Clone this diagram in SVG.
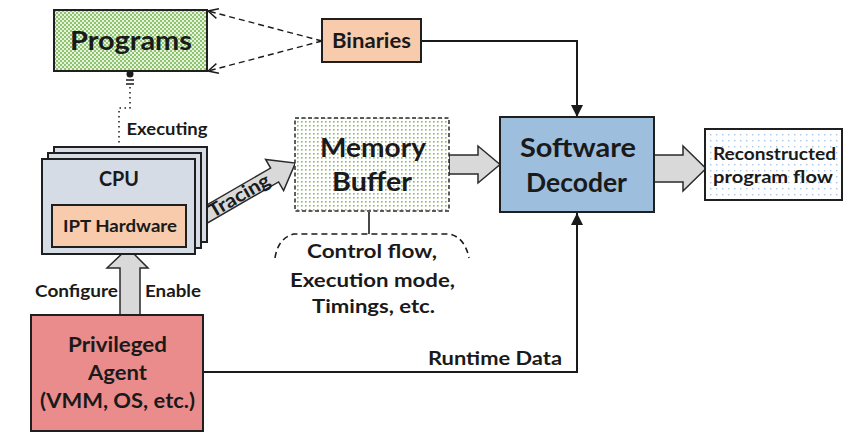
<svg xmlns="http://www.w3.org/2000/svg" width="846" height="436" viewBox="0 0 846 436">
<defs>
<pattern id="checker" width="4" height="4" patternUnits="userSpaceOnUse">
<rect width="4" height="4" fill="#E6F2DD"/>
<rect width="2" height="2" fill="#8EC46E"/>
<rect x="2" y="2" width="2" height="2" fill="#8EC46E"/>
</pattern>
<pattern id="gdots" width="4" height="4" patternUnits="userSpaceOnUse">
<rect width="4" height="4" fill="#FFFFFF"/>
<rect x="1" y="1" width="1.6" height="1.6" fill="#8DB872"/>
</pattern>
<pattern id="bdots" width="6" height="6" patternUnits="userSpaceOnUse">
<rect width="6" height="6" fill="#FFFFFF"/>
<rect x="2" y="2" width="1.4" height="1.4" fill="#A9C6E4"/>
</pattern>
<marker id="arrow" markerWidth="14" markerHeight="14" refX="12" refY="6" orient="auto" markerUnits="userSpaceOnUse">
<path d="M0,0 L12,6 L0,12 Z" fill="#1a1a1a"/>
</marker>
<marker id="vee" markerWidth="14" markerHeight="14" refX="11" refY="6" orient="auto" markerUnits="userSpaceOnUse">
<path d="M1,1 L11,6 L1,11" fill="none" stroke="#1a1a1a" stroke-width="1.4"/>
</marker>
</defs>
<style>
text{font-family:Lato,"Open Sans","Liberation Sans",sans-serif;font-weight:bold;fill:#1a1a1a;text-anchor:middle}
.box{stroke:#1f1f1f;stroke-width:2}
.line{fill:none;stroke:#1a1a1a;stroke-width:2}
.dash{fill:none;stroke:#1a1a1a;stroke-width:1.4;stroke-dasharray:6,4}
.block{fill:#D9D9D9;stroke:#2a2a2a;stroke-width:1.5;stroke-linejoin:miter}
</style>
<rect width="846" height="436" fill="#FFFFFF"/>

<g id="connectors">
<path class="dash" d="M322,41 L208,11" marker-end="url(#vee)"/>
<path class="dash" d="M322,41 L208,71" marker-end="url(#vee)"/>
<path class="line" d="M421,41 H577 V117" marker-end="url(#arrow)"/>
<path class="line" d="M204,372 H577 V213" marker-end="url(#arrow)"/>
<circle cx="130" cy="74" r="3.5" fill="#1a1a1a"/>
<path d="M126,80 H134 M126,84 H134" stroke="#1a1a1a" stroke-width="1.3"/>
<path d="M130,87 V108 H119 V159" fill="none" stroke="#1a1a1a" stroke-width="1.5" stroke-dasharray="1.5,3.5"/>
<circle cx="119" cy="159" r="3.5" fill="#1a1a1a"/>
<path class="line" d="M369,212 V234" style="stroke-width:1.6"/>
<path class="dash" d="M275,258 Q278,238 294,234 H450 Q465,238 469,258" style="stroke-width:1.6"/>
<polygon class="block" points="120,315 120,268 107,268 128,248 148,268 140,268 140,315"/>
<polygon class="block" points="449,155 478,155 478,146 500,164.5 478,183 478,174 449,174"/>
<polygon class="block" points="654,155 683,155 683,146 706,168.5 683,191 683,182 654,182"/>
<g transform="translate(188,225) rotate(-30)">
<polygon class="block" points="0,-8 100,-8 100,-18 124,0 100,18 100,8 0,8"/>
<text x="59" y="6.5" font-size="19" textLength="68" lengthAdjust="spacingAndGlyphs">Tracing</text>
</g>
<text x="167" y="135" font-size="17" textLength="81" lengthAdjust="spacingAndGlyphs">Executing</text>
<text x="76.5" y="297" font-size="17" textLength="83" lengthAdjust="spacingAndGlyphs">Configure</text>
<text x="173" y="297" font-size="17" textLength="56" lengthAdjust="spacingAndGlyphs">Enable</text>
<text x="495" y="365" font-size="19" textLength="134" lengthAdjust="spacingAndGlyphs">Runtime Data</text>
<text x="372" y="258" font-size="19" textLength="130" lengthAdjust="spacingAndGlyphs">Control flow,</text>
<text x="372.5" y="287" font-size="19" textLength="165" lengthAdjust="spacingAndGlyphs">Execution mode,</text>
<text x="373.5" y="313" font-size="19" textLength="123" lengthAdjust="spacingAndGlyphs">Timings, etc.</text>
</g>

<g id="programs">
<rect class="box" x="54" y="10" width="153" height="61" fill="url(#checker)"/>
<text x="131" y="50" font-size="27" textLength="122" lengthAdjust="spacingAndGlyphs">Programs</text>
</g>

<g id="binaries">
<rect class="box" x="322" y="19" width="99" height="43" fill="#F8CBAD"/>
<text x="371.5" y="48" font-size="20" textLength="79" lengthAdjust="spacingAndGlyphs">Binaries</text>
</g>

<g id="cpu">
<rect class="box" x="54" y="147" width="153" height="95" fill="#D6DCE5"/>
<rect class="box" x="48" y="153" width="153" height="95" fill="#D6DCE5"/>
<rect class="box" x="42" y="159" width="153" height="95" fill="#D6DCE5"/>
<text x="119" y="186" font-size="20" textLength="40" lengthAdjust="spacingAndGlyphs">CPU</text>
</g>

<g id="ipt-hardware">
<rect class="box" x="52" y="205" width="134" height="42" fill="#F8CBAD"/>
<text x="120" y="232" font-size="17" textLength="114" lengthAdjust="spacingAndGlyphs">IPT Hardware</text>
</g>

<g id="memory-buffer">
<rect x="295" y="118" width="154" height="93" fill="url(#gdots)" stroke="#2a2a2a" stroke-width="1.5" stroke-dasharray="4,2.5"/>
<text x="373" y="157" font-size="26" textLength="106" lengthAdjust="spacingAndGlyphs">Memory</text>
<text x="372" y="191" font-size="26" textLength="80" lengthAdjust="spacingAndGlyphs">Buffer</text>
</g>

<g id="software-decoder">
<rect class="box" x="500" y="117" width="154" height="95" fill="#9DBEDD"/>
<text x="578" y="157" font-size="26" textLength="116" lengthAdjust="spacingAndGlyphs">Software</text>
<text x="576.5" y="192" font-size="26" textLength="101" lengthAdjust="spacingAndGlyphs">Decoder</text>
</g>

<g id="reconstructed">
<rect class="box" x="705" y="129" width="137" height="71" fill="url(#bdots)"/>
<text x="774.5" y="160" font-size="16.5" textLength="123" lengthAdjust="spacingAndGlyphs">Reconstructed</text>
<text x="773" y="183" font-size="16.5" textLength="120" lengthAdjust="spacingAndGlyphs">program flow</text>
</g>

<g id="privileged-agent">
<rect class="box" x="31" y="315" width="172" height="116" fill="#EA8C8C"/>
<text x="117.5" y="352" font-size="20" textLength="99" lengthAdjust="spacingAndGlyphs">Privileged</text>
<text x="117.5" y="380" font-size="20" textLength="59" lengthAdjust="spacingAndGlyphs">Agent</text>
<text x="117.5" y="408" font-size="20" textLength="155" lengthAdjust="spacingAndGlyphs">(VMM, OS, etc.)</text>
</g>
</svg>
